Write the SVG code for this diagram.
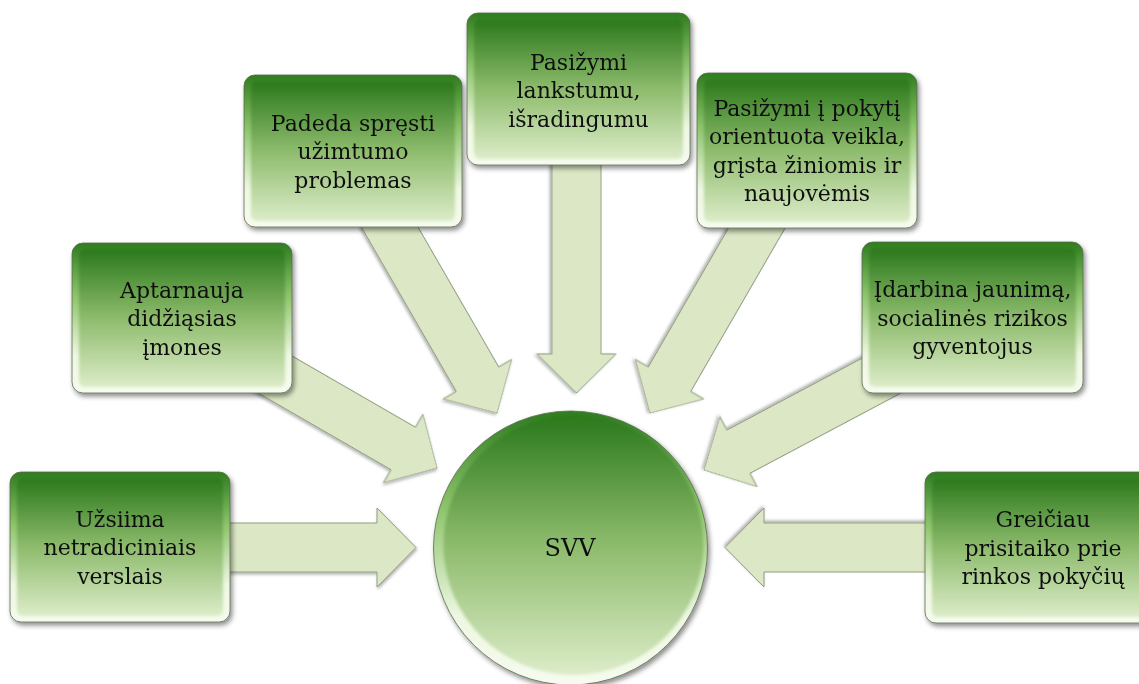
<svg xmlns="http://www.w3.org/2000/svg" width="1139" height="684" viewBox="0 0 1139 684">
<defs>
  <linearGradient id="gRim" x1="0" y1="0" x2="0" y2="1">
    <stop offset="0" stop-color="#2f7d20"/>
    <stop offset="0.35" stop-color="#8cc46a"/>
    <stop offset="0.75" stop-color="#eef7e2"/>
    <stop offset="1" stop-color="#f6fbef"/>
  </linearGradient>
  <linearGradient id="gFace" x1="0" y1="0" x2="0" y2="1">
    <stop offset="0" stop-color="#2a781b"/>
    <stop offset="0.5" stop-color="#8dbb6c"/>
    <stop offset="1" stop-color="#dcecc8"/>
  </linearGradient>
  <filter id="sh" x="-10%" y="-10%" width="125%" height="130%">
    <feDropShadow dx="2" dy="3" stdDeviation="2.5" flood-color="#000" flood-opacity="0.45"/>
  </filter>
  <filter id="ash" x="-10%" y="-10%" width="125%" height="130%">
    <feDropShadow dx="1" dy="2" stdDeviation="1.5" flood-color="#000" flood-opacity="0.3"/>
  </filter>
  <filter id="soft"><feGaussianBlur stdDeviation="1.5"/></filter>
  <style>
    .rim{fill:url(#gRim);stroke:#5a6a4e;stroke-width:0.8}
    .face{fill:url(#gFace);filter:url(#soft)}
    .arr{fill:#dce8c5;stroke:#8f9c80;stroke-width:1;filter:url(#ash)}
    .t{font-family:"DejaVu Serif","Liberation Serif",serif;font-size:22px;fill:#111;text-anchor:middle}
  </style>
</defs>
<rect width="1139" height="684" fill="#fff"/>
<g id="connectors">
  <polygon class="arr" transform="translate(416,547.5)" points="-200,-24.5 -39,-24.5 -39,-39.5 0,0 -39,39.5 -39,24.5 -200,24.5"/>
  <polygon class="arr" transform="translate(437,468) rotate(30)" points="-250,-24.5 -39,-24.5 -39,-39.5 0,0 -39,39.5 -39,24.5 -250,24.5"/>
  <polygon class="arr" transform="translate(497,413) rotate(60)" points="-230,-24.5 -39,-24.5 -39,-39.5 0,0 -39,39.5 -39,24.5 -230,24.5"/>
  <polygon class="arr" transform="translate(576.5,393) rotate(90)" points="-250,-24.5 -39,-24.5 -39,-39.5 0,0 -39,39.5 -39,24.5 -250,24.5"/>
  <polygon class="arr" transform="translate(650,413) rotate(120)" points="-240,-24.5 -39,-24.5 -39,-39.5 0,0 -39,39.5 -39,24.5 -240,24.5"/>
  <polygon class="arr" transform="translate(704,470) rotate(152)" points="-250,-24.5 -39,-24.5 -39,-39.5 0,0 -39,39.5 -39,24.5 -250,24.5"/>
  <polygon class="arr" transform="translate(725,547.5) rotate(180)" points="-220,-24.5 -39,-24.5 -39,-39.5 0,0 -39,39.5 -39,24.5 -220,24.5"/>
</g>
<g id="center" filter="url(#sh)">
  <circle class="rim" cx="570.5" cy="548" r="137"/>
  <circle class="face" cx="573.5" cy="545" r="130"/>
  <text class="t" x="570" y="556" style="font-size:24px">SVV</text>
</g>
<g id="n1" filter="url(#sh)">
  <rect class="rim" x="10" y="472" width="220" height="150" rx="11"/>
  <rect class="face" x="17" y="478" width="206" height="138" rx="6"/>
  <text class="t" x="120"><tspan x="120" y="526.5">Užsiima</tspan><tspan x="120" y="555">netradiciniais</tspan><tspan x="120" y="583.5">verslais</tspan></text>
</g>
<g id="n2" filter="url(#sh)">
  <rect class="rim" x="72" y="243" width="220" height="150" rx="11"/>
  <rect class="face" x="79" y="249" width="206" height="138" rx="6"/>
  <text class="t"><tspan x="182" y="297.5">Aptarnauja</tspan><tspan x="182" y="326">didžiąsias</tspan><tspan x="182" y="354.5">įmones</tspan></text>
</g>
<g id="n3" filter="url(#sh)">
  <rect class="rim" x="244" y="75" width="218" height="152" rx="11"/>
  <rect class="face" x="251" y="81" width="204" height="140" rx="6"/>
  <text class="t"><tspan x="353" y="130.5">Padeda spręsti</tspan><tspan x="353" y="159">užimtumo</tspan><tspan x="353" y="187.5">problemas</tspan></text>
</g>
<g id="n4" filter="url(#sh)">
  <rect class="rim" x="467" y="13" width="223" height="152" rx="11"/>
  <rect class="face" x="474" y="19" width="209" height="140" rx="6"/>
  <text class="t"><tspan x="578.5" y="69.5">Pasižymi</tspan><tspan x="578.5" y="98">lankstumu,</tspan><tspan x="578.5" y="126.5">išradingumu</tspan></text>
</g>
<g id="n5" filter="url(#sh)">
  <rect class="rim" x="697" y="73" width="220" height="155" rx="11"/>
  <rect class="face" x="704" y="79" width="206" height="143" rx="6"/>
  <text class="t"><tspan x="807" y="115.5">Pasižymi į pokytį</tspan><tspan x="807" y="144">orientuota veikla,</tspan><tspan x="807" y="172.5">grįsta žiniomis ir</tspan><tspan x="807" y="201">naujovėmis</tspan></text>
</g>
<g id="n6" filter="url(#sh)">
  <rect class="rim" x="862" y="242" width="221" height="151" rx="11"/>
  <rect class="face" x="869" y="248" width="207" height="139" rx="6"/>
  <text class="t"><tspan x="972.5" y="297">Įdarbina jaunimą,</tspan><tspan x="972.5" y="325.5">socialinės rizikos</tspan><tspan x="972.5" y="354">gyventojus</tspan></text>
</g>
<g id="n7" filter="url(#sh)">
  <rect class="rim" x="925" y="472" width="232" height="151" rx="11"/>
  <rect class="face" x="932" y="478" width="218" height="139" rx="6"/>
  <text class="t"><tspan x="1043" y="527">Greičiau</tspan><tspan x="1043" y="555.5">prisitaiko prie</tspan><tspan x="1043" y="584">rinkos pokyčių</tspan></text>
</g>
</svg>
